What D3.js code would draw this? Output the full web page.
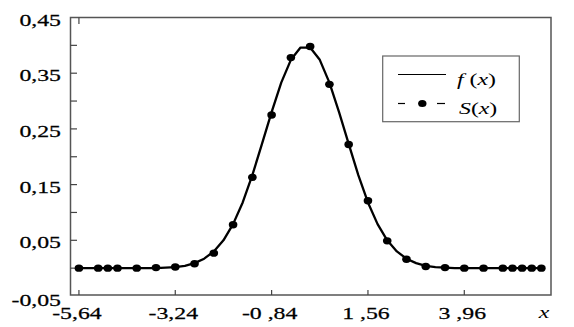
<!DOCTYPE html>
<html><head><meta charset="utf-8">
<script src="https://cdn.jsdelivr.net/npm/d3@7/dist/d3.min.js"></script>
<style>body{margin:0;background:#fff}svg{display:block}text{font-family:"Liberation Serif","Times New Roman",Times,serif}</style>
</head><body>
<script>
// f(x) polyline samples
const fX = [-5.64,-5.40,-5.16,-4.92,-4.68,-4.44,-4.20,-3.96,-3.72,-3.48,-3.24,-3.00,-2.76,-2.52,-2.28,-2.04,-1.80,-1.56,-1.32,-1.08,-0.84,-0.60,-0.36,-0.12,0.12,0.36,0.60,0.84,1.08,1.32,1.56,1.80,2.04,2.28,2.52,2.76,3.00,3.24,3.48,3.72,3.96,4.20,4.44,4.68,4.92,5.16,5.40,5.64,5.88];
const fY = [0.000,0.000,0.000,0.000,0.000,0.000,0.000,0.000,0.000,0.001,0.002,0.004,0.009,0.017,0.030,0.050,0.079,0.118,0.167,0.223,0.280,0.333,0.374,0.396,0.396,0.374,0.333,0.280,0.223,0.167,0.118,0.079,0.050,0.030,0.017,0.009,0.004,0.002,0.001,0.000,0.000,0.000,0.000,0.000,0.000,0.000,0.000,0.000,0.000];
// S(x) points
const sX = [-5.64,-5.16,-4.92,-4.68,-4.20,-3.72,-3.24,-2.76,-2.28,-1.80,-1.32,-0.84,-0.36,0.12,0.60,1.08,1.56,2.04,2.52,3.00,3.48,3.96,4.44,4.92,5.16,5.40,5.64,5.88];
const sY = [0.000,0.000,0.000,0.000,0.000,0.001,0.002,0.008,0.027,0.078,0.163,0.275,0.378,0.398,0.330,0.222,0.121,0.049,0.016,0.003,0.001,0.000,0.000,0.000,0.000,0.000,0.000,0.000];
const xTicks = [-5.64,-3.24,-0.84,1.56,3.96];
const xTickLabels = ["-5,64","-3,24","-0 ,84","1 ,56","3 ,96"];
const yTicks = [-0.05,0.05,0.15,0.25,0.35,0.45];
const yTickLabels = ["-0,05","0,05","0,15","0,25","0,35","0,45"];
const yMinor = [0.00,0.10,0.20,0.30,0.40];

const W=574,H=327;
const svg=d3.select("body").append("svg").attr("width",W).attr("height",H);
const x=d3.scaleLinear().domain([-5.85,6.12]).range([70.5,551]);
const y=d3.scaleLinear().domain([-0.05,0.45]).range([296,17.5]);
const SX=1.36, FS=17.5;

function txt(g,xx,yy,anchor){
  return g.append("text").attr("transform",`translate(${xx},${yy}) scale(${SX},1)`)
    .attr("text-anchor",anchor).attr("font-size",FS).attr("fill","#000")
    .attr("stroke","#000").attr("stroke-width",0.25);
}

// frame
svg.append("rect").attr("x",70.5).attr("y",17.5).attr("width",480.5).attr("height",277.5)
  .attr("fill","none").attr("stroke","#555").attr("stroke-width",1.5);

// y ticks
[...yTicks,...yMinor].forEach(v=>{
  if(v<=-0.05||v>=0.45) return;
  svg.append("line").attr("x1",70.5).attr("x2",77).attr("y1",y(v)).attr("y2",y(v)).attr("stroke","#444").attr("stroke-width",1.2);
});
// x ticks
xTicks.forEach(v=>{
  svg.append("line").attr("x1",x(v)).attr("x2",x(v)).attr("y1",295).attr("y2",290).attr("stroke","#444").attr("stroke-width",1.2);
});
svg.append("line").attr("x1",x(-5.64)).attr("x2",x(-5.64)).attr("y1",17.5).attr("y2",24).attr("stroke","#444").attr("stroke-width",1.2);

// y labels
yTicks.forEach((v,i)=>{
  const yy = v===-0.05 ? y(v)+10 : y(v)+8;
  txt(svg,61,yy,"end").text(yTickLabels[i]);
});
// x labels
xTicks.forEach((v,i)=>{
  txt(svg,x(v)-2,319,"middle").text(xTickLabels[i]);
});
txt(svg,544,318,"middle").attr("font-style","italic").attr("stroke-width",0).text("x");

// f line
const line=d3.line().x((d,i)=>x(fX[i])).y((d,i)=>y(fY[i]));
svg.append("path").datum(fX).attr("d",line).attr("fill","none").attr("stroke","#000").attr("stroke-width",2.3).attr("stroke-linejoin","round");
// S points
svg.selectAll("ellipse.s").data(sX).enter().append("ellipse").attr("class","s")
  .attr("cx",d=>x(d)).attr("cy",(d,i)=>y(sY[i])).attr("rx",4.3).attr("ry",3.7).attr("fill","#000");

// legend
const lg=svg.append("g");
lg.append("rect").attr("x",382.7).attr("y",56).attr("width",136.6).attr("height",65.7).attr("fill","#fff").attr("stroke","#666").attr("stroke-width",1.2);
lg.append("line").attr("x1",398).attr("x2",446).attr("y1",74.5).attr("y2",74.5).attr("stroke","#000").attr("stroke-width",1.2);
lg.append("line").attr("x1",398).attr("x2",405).attr("y1",103.5).attr("y2",103.5).attr("stroke","#000").attr("stroke-width",1.2);
lg.append("line").attr("x1",437).attr("x2",445).attr("y1",103.5).attr("y2",103.5).attr("stroke","#000").attr("stroke-width",1.2);
lg.append("ellipse").attr("cx",422.3).attr("cy",103.5).attr("rx",4.2).attr("ry",3.6).attr("fill","#000");
const t1=txt(lg,457,85,"start").attr("stroke-width",0);
t1.append("tspan").attr("font-style","italic").text("f");
t1.append("tspan").text(" (");
t1.append("tspan").attr("font-style","italic").text("x");
t1.append("tspan").text(")");
const t2=txt(lg,459,113.5,"start").attr("stroke-width",0);
t2.append("tspan").attr("font-style","italic").text("S");
t2.append("tspan").text("(");
t2.append("tspan").attr("font-style","italic").text("x");
t2.append("tspan").text(")");
</script>
</body></html>
